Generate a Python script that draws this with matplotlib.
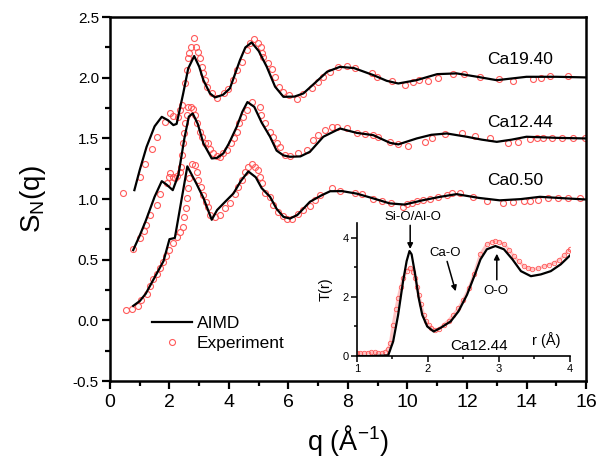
import matplotlib
matplotlib.use("Agg")
import matplotlib.pyplot as plt
from matplotlib.ticker import MultipleLocator, FormatStrFormatter
from matplotlib.lines import Line2D

plt.rcParams['font.family'] = ['Liberation Sans', 'DejaVu Sans']
plt.rcParams['mathtext.default'] = 'regular'

# ---- main panel: S_N(q), curves shifted by 0, 0.5, 1.0 ----
labels = ['Ca0.50', 'Ca12.44', 'Ca19.40']

q_aimd_050 = [0.78, 1.0, 1.2, 1.4, 1.6, 1.8, 2.0, 2.18, 2.6, 2.9, 3.14, 3.42, 3.6, 3.87, 4.15,
              4.4, 4.65, 4.9, 5.1, 5.38, 5.6, 5.83, 6.05, 6.3, 6.72, 7.1, 7.4, 7.8, 8.3, 8.85,
              9.4, 9.9, 10.5, 11.1, 11.65, 12.4, 13.1, 13.8, 14.45, 15.2, 16.0]
s_aimd_050 = [0.12, 0.16, 0.22, 0.31, 0.40, 0.49, 0.67, 0.68, 1.27, 1.13, 1.01, 0.83, 0.91, 0.978, 1.047,
              1.15, 1.228, 1.18, 1.09, 1.019, 0.92, 0.854, 0.84, 0.87, 0.978, 1.03, 1.065, 1.066, 1.045, 1.006,
              0.965, 0.955, 0.99, 1.019, 1.041, 1.01, 0.99, 1.0, 1.019, 1.008, 0.997]

q_aimd_1244 = [0.78, 1.0, 1.2, 1.5, 1.74, 1.9, 2.11, 2.3, 2.5, 2.65, 2.78, 2.95, 3.14, 3.42, 3.6,
               3.81, 4.0, 4.26, 4.45, 4.62, 4.85, 5.1, 5.38, 5.6, 5.83, 6.05, 6.4, 6.72, 7.17, 7.73,
               8.29, 8.85, 9.41, 9.69, 10.31, 10.8, 11.32, 11.99, 12.5, 13.0, 13.5, 14.0, 15.0, 16.0]
s_aimd_1244 = [0.58, 0.70, 0.82, 1.02, 1.148, 1.12, 1.074, 1.2, 1.5, 1.68, 1.706, 1.62, 1.459, 1.335, 1.34,
               1.377, 1.46, 1.596, 1.72, 1.80, 1.76, 1.63, 1.514, 1.40, 1.36, 1.349, 1.352, 1.39, 1.514, 1.582,
               1.546, 1.527, 1.464, 1.451, 1.50, 1.53, 1.541, 1.514, 1.49, 1.472, 1.49, 1.514, 1.505, 1.50]

q_aimd_1940 = [0.82, 1.0, 1.23, 1.5, 1.74, 1.95, 2.13, 2.24, 2.46, 2.63, 2.83, 3.0, 3.14, 3.36, 3.53,
               3.8, 4.03, 4.37, 4.55, 4.76, 5.0, 5.27, 5.55, 5.83, 6.2, 6.5, 6.9, 7.3, 7.73, 8.2,
               8.85, 9.3, 9.69, 10.3, 11.0, 11.65, 12.3, 13.0, 14.0, 15.0, 16.0]
s_aimd_1940 = [1.074, 1.24, 1.431, 1.6, 1.678, 1.65, 1.61, 1.62, 1.87, 2.077, 2.179, 2.09, 1.98, 1.871, 1.838,
               1.86, 1.912, 2.146, 2.25, 2.291, 2.22, 2.09, 1.926, 1.843, 1.845, 1.871, 1.96, 2.05, 2.09, 2.08,
               2.022, 1.975, 1.953, 1.98, 2.03, 2.036, 2.01, 1.98, 2.008, 2.008, 2.003]

q_exp_050 = [0.54, 0.73, 0.95, 1.03, 1.23, 1.34, 1.46, 1.57, 1.68, 1.79, 1.88, 1.99, 2.11, 2.26, 2.35,
             2.44, 2.49, 2.55, 2.6, 2.63, 2.67, 2.75, 2.86, 2.91, 2.97, 3.05, 3.14, 3.23, 3.3, 3.36,
             3.53, 3.7, 3.87, 4.03, 4.2, 4.31, 4.43, 4.54, 4.65, 4.76, 4.87, 4.99, 5.04, 5.1, 5.21,
             5.38, 5.49, 5.66, 5.8, 5.96, 6.11, 6.33, 6.5, 6.72, 6.89, 7.06, 7.45, 7.73, 8.24, 8.46,
             8.85, 9.13, 9.43, 9.84, 9.97, 10.14, 10.31, 10.53, 10.76, 11.04, 11.32, 11.48, 11.76, 12.21, 12.66,
             13.22, 13.56, 13.9, 14.12, 14.4, 14.73, 15.07, 15.4, 15.8]
s_exp_050 = [0.085, 0.096, 0.118, 0.167, 0.217, 0.283, 0.338, 0.382, 0.429, 0.483, 0.53, 0.58, 0.64, 0.69, 0.73,
             0.767, 0.854, 0.923, 1.006, 1.088, 1.17, 1.288, 1.28, 1.225, 1.157, 1.096, 1.033, 0.978, 0.936, 0.868,
             0.854, 0.868, 0.923, 0.97, 1.041, 1.1, 1.16, 1.225, 1.266, 1.288, 1.266, 1.239, 1.184, 1.13, 1.047,
             1.019, 0.95, 0.895, 0.86, 0.84, 0.833, 0.874, 0.909, 0.942, 0.992, 1.033, 1.088, 1.068, 1.047, 1.04,
             1.0, 0.983, 0.965, 0.936, 0.956, 0.97, 0.983, 0.992, 1.0, 1.019, 1.033, 1.047, 1.047, 1.019, 0.986,
             0.965, 0.978, 0.983, 0.983, 0.992, 1.011, 1.011, 1.011, 1.006]

q_exp_1244 = [0.76, 1.01, 1.15, 1.2, 1.34, 1.57, 1.68, 1.9, 1.99, 2.02, 2.11, 2.18, 2.26, 2.35, 2.39,
              2.42, 2.46, 2.49, 2.52, 2.6, 2.63, 2.71, 2.8, 2.86, 2.94, 3.03, 3.08, 3.19, 3.3, 3.36,
              3.47, 3.59, 3.7, 3.81, 3.92, 4.06, 4.17, 4.26, 4.35, 4.46, 4.59, 4.76, 5.04, 5.08, 5.21,
              5.38, 5.49, 5.6, 5.71, 5.88, 6.05, 6.33, 6.61, 6.83, 7.0, 7.23, 7.45, 7.62, 7.96, 8.29,
              8.57, 8.85, 9.02, 9.41, 9.69, 10.03, 10.59, 10.81, 11.26, 11.82, 12.27, 12.77, 13.37, 13.72, 14.12,
              14.34, 14.57, 14.85, 15.18, 15.57, 15.97]
s_exp_1244 = [0.585, 0.676, 0.736, 0.786, 0.868, 0.95, 1.04, 1.13, 1.179, 1.217, 1.179, 1.17, 1.19, 1.225, 1.266,
              1.363, 1.459, 1.541, 1.624, 1.692, 1.76, 1.76, 1.74, 1.692, 1.624, 1.555, 1.514, 1.459, 1.459, 1.41,
              1.377, 1.354, 1.349, 1.377, 1.404, 1.464, 1.50, 1.555, 1.624, 1.678, 1.733, 1.80, 1.76, 1.692, 1.624,
              1.555, 1.514, 1.459, 1.431, 1.363, 1.354, 1.377, 1.404, 1.486, 1.527, 1.569, 1.596, 1.596, 1.582, 1.546,
              1.533, 1.527, 1.514, 1.467, 1.451, 1.437, 1.467, 1.505, 1.533, 1.546, 1.519, 1.50, 1.464, 1.472, 1.492,
              1.50, 1.505, 1.505, 1.505, 1.505, 1.50]

q_exp_1940 = [0.45, 1.01, 1.18, 1.4, 1.57, 1.85, 2.02, 2.13, 2.3, 2.35, 2.41, 2.52, 2.58, 2.63, 2.67,
              2.71, 2.83, 2.89, 2.97, 3.03, 3.08, 3.14, 3.19, 3.27, 3.42, 3.59, 3.84, 3.96, 4.12, 4.26,
              4.43, 4.59, 4.71, 4.85, 4.99, 5.08, 5.1, 5.15, 5.32, 5.44, 5.55, 5.69, 5.8, 6.03, 6.27,
              6.5, 6.78, 7.0, 7.17, 7.39, 7.68, 7.96, 8.24, 8.8, 8.96, 9.47, 9.92, 10.2, 10.37, 10.7,
              11.04, 11.52, 11.91, 12.44, 13.09, 13.54, 14.23, 14.49, 14.79, 15.4]
s_exp_1940 = [1.047, 1.184, 1.286, 1.41, 1.514, 1.637, 1.706, 1.684, 1.678, 1.733, 1.775, 1.959, 2.063, 2.16, 2.2,
              2.255, 2.324, 2.255, 2.209, 2.16, 2.09, 2.036, 1.981, 1.926, 1.876, 1.835, 1.871, 1.904, 1.981, 2.063,
              2.132, 2.228, 2.283, 2.319, 2.283, 2.255, 2.20, 2.173, 2.118, 2.069, 2.008, 1.926, 1.884, 1.857, 1.822,
              1.865, 1.912, 1.967, 2.008, 2.049, 2.09, 2.096, 2.077, 2.041, 2.003, 1.975, 1.937, 1.967, 1.981, 1.973,
              2.0, 2.03, 2.03, 2.008, 1.989, 1.973, 1.989, 2.0, 2.014, 2.014]

# ---- inset: T(r) for Ca12.44 ----
r_aimd = [1.0, 1.2, 1.44, 1.51, 1.58, 1.65, 1.70, 1.74, 1.77, 1.82, 1.87, 1.92, 1.99, 2.08, 2.17,
          2.32, 2.43, 2.55, 2.67, 2.74, 2.83, 2.95, 3.07, 3.19, 3.31, 3.45, 3.59, 3.73, 3.87, 4.0]
t_aimd = [0.0, 0.0, 0.02, 0.49, 1.39, 2.53, 3.21, 3.55, 3.44, 2.76, 1.96, 1.39, 1.0, 0.83, 0.94,
          1.17, 1.51, 2.07, 2.81, 3.27, 3.61, 3.72, 3.61, 3.27, 2.87, 2.70, 2.76, 2.87, 3.1, 3.4]

r_exp = [1.0, 1.05, 1.1, 1.15, 1.2, 1.25, 1.3, 1.35, 1.4, 1.44, 1.47, 1.51, 1.55, 1.58, 1.62,
         1.65, 1.7, 1.75, 1.79, 1.82, 1.85, 1.87, 1.9, 1.94, 1.97, 2.01, 2.05, 2.1, 2.15, 2.22,
         2.29, 2.36, 2.43, 2.5, 2.58, 2.65, 2.74, 2.83, 2.9, 2.95, 3.0, 3.07, 3.14, 3.21, 3.28,
         3.35, 3.41, 3.47, 3.55, 3.64, 3.71, 3.78, 3.85, 3.92, 3.97, 4.0]
t_exp = [0.1, 0.1, 0.1, 0.11, 0.12, 0.12, 0.11, 0.1, 0.15, 0.25, 0.43, 1.05, 1.6, 1.96, 2.35,
         2.64, 2.88, 2.98, 2.85, 2.64, 2.35, 2.07, 1.75, 1.39, 1.2, 1.05, 0.95, 0.88, 0.9, 1.05,
         1.2, 1.39, 1.62, 1.9, 2.3, 2.76, 3.44, 3.78, 3.86, 3.89, 3.87, 3.78, 3.6, 3.38, 3.2,
         3.04, 2.97, 2.93, 2.96, 3.04, 3.09, 3.15, 3.25, 3.4, 3.55, 3.62]

red = '#ff5a5a'

fig = plt.figure(figsize=(6.06, 4.62), dpi=100)
ax = fig.add_axes([0.1815, 0.175, 0.7855, 0.788])

aimd = [(q_aimd_050, s_aimd_050), (q_aimd_1244, s_aimd_1244), (q_aimd_1940, s_aimd_1940)]
exps = [(q_exp_050, s_exp_050), (q_exp_1244, s_exp_1244), (q_exp_1940, s_exp_1940)]
for (qa, sa), (qe, se) in zip(aimd, exps):
    ax.plot(qe, se, 'o', ms=4.3, mfc='none', mec=red, mew=0.8)
    ax.plot(qa, sa, color='black', lw=1.6)

label_y = [1.157, 1.635, 2.154]
for lab, y in zip(labels, label_y):
    ax.text(12.67, y, lab, fontsize=12.5, va='center', ha='left')

ax.set_xlim(0, 16)
ax.set_ylim(-0.5, 2.5)
ax.xaxis.set_major_locator(MultipleLocator(2))
ax.xaxis.set_minor_locator(MultipleLocator(1))
ax.yaxis.set_major_locator(MultipleLocator(0.5))
ax.yaxis.set_minor_locator(MultipleLocator(0.25))
ax.yaxis.set_major_formatter(FormatStrFormatter('%.1f'))
ax.tick_params(which='both', direction='out', top=False, right=False, width=1.6)
ax.tick_params(which='major', length=6)
ax.tick_params(which='minor', length=3.5)
ax.tick_params(axis='x', labelsize=14, pad=3)
ax.tick_params(axis='y', labelsize=11, pad=2)
for sp in ax.spines.values():
    sp.set_linewidth(1.8)
ax.set_xlabel('q (Å$^{-1}$)', fontsize=19.5, labelpad=9)
ax.set_ylabel('S$_N$(q)', fontsize=20, labelpad=18)

handles = [Line2D([], [], color='black', lw=1.6),
           Line2D([], [], ls='none', marker='o', ms=4.3, mfc='none', mec=red, mew=0.8)]
ax.legend(handles, ['AIMD', 'Experiment'], loc='lower left', bbox_to_anchor=(0.055, 0.04),
          frameon=False, fontsize=12.5, handlelength=2.3, handletextpad=0.3, labelspacing=0.25)

# inset
axi = fig.add_axes([0.589, 0.2294, 0.3515, 0.288])
axi.set_facecolor('none')
axi.plot(r_exp, t_exp, color=red, lw=2.2, alpha=0.35)
axi.plot(r_exp, t_exp, 'o', ms=3.2, mfc='none', mec=red, mew=0.6)
axi.plot(r_aimd, t_aimd, color='black', lw=1.6)
axi.set_xlim(1, 4)
axi.set_ylim(0, 4.5)
axi.xaxis.set_major_locator(MultipleLocator(1))
axi.xaxis.set_minor_locator(MultipleLocator(0.5))
axi.yaxis.set_major_locator(MultipleLocator(2))
axi.yaxis.set_minor_locator(MultipleLocator(1))
axi.tick_params(which='both', direction='out', top=False, right=False, width=1.1, labelsize=8, pad=2)
axi.tick_params(which='major', length=4)
axi.tick_params(which='minor', length=2.5)
axi.spines['top'].set_visible(False)
axi.spines['right'].set_visible(False)
for sp in ['left', 'bottom']:
    axi.spines[sp].set_linewidth(1.2)
axi.set_ylabel('T(r)', fontsize=10.5, labelpad=7)

arrow = dict(arrowstyle='-|>', color='black', lw=1.1, mutation_scale=8, shrinkA=0, shrinkB=0)
axi.annotate('', xy=(1.75, 3.62), xytext=(1.75, 4.42), arrowprops=arrow, annotation_clip=False)
axi.text(1.79, 4.7, 'Si-O/Al-O', fontsize=9.5, ha='center', va='center', clip_on=False)
axi.annotate('', xy=(2.39, 2.19), xytext=(2.27, 3.2), arrowprops=arrow)
axi.text(2.24, 3.5, 'Ca-O', fontsize=9.5, ha='center', va='center')
axi.annotate('', xy=(2.97, 3.46), xytext=(2.97, 2.58), arrowprops=arrow)
axi.text(2.96, 2.19, 'O-O', fontsize=9.5, ha='center', va='center')
axi.text(2.72, 0.35, 'Ca12.44', fontsize=11, ha='center', va='center')
axi.text(3.66, 0.54, 'r (Å)', fontsize=10.5, ha='center', va='center')

fig.savefig('out.png', dpi=100)
